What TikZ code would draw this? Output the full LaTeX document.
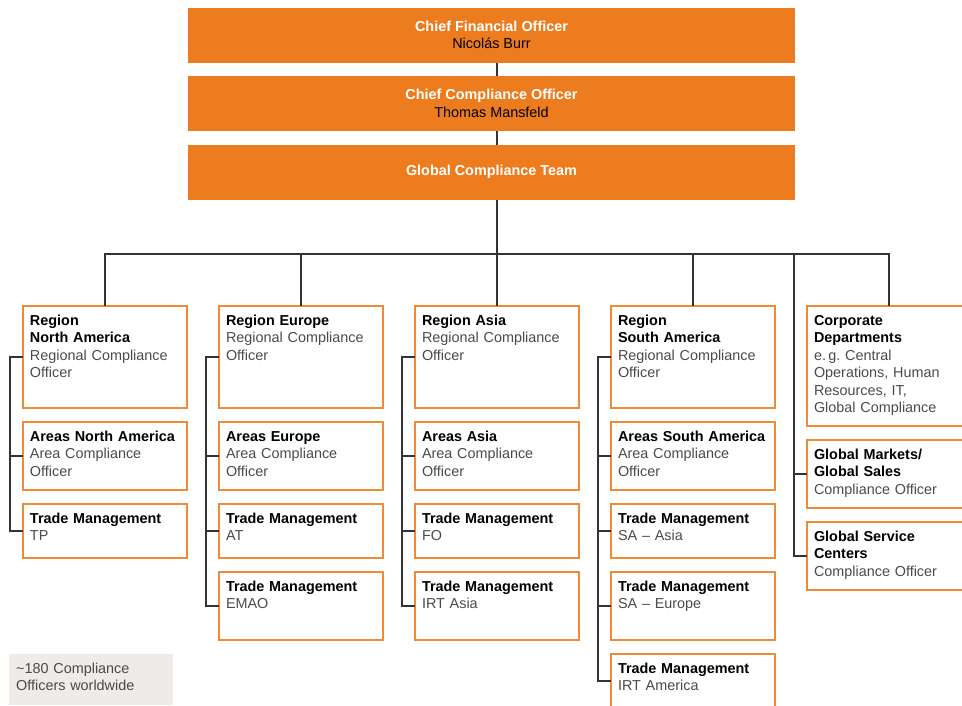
\documentclass[tikz,border=0pt]{standalone}
\usepackage{fontspec}
\setmainfont{Liberation Sans}
\usetikzlibrary{positioning}

\definecolor{cforange}{HTML}{EC7C1E}
\definecolor{boxline}{HTML}{EF8B35}
\definecolor{linkgray}{HTML}{333333}
\definecolor{bodygray}{HTML}{4A4A4A}
\definecolor{notegray}{HTML}{EEEBE8}

\newcommand{\head}[1]{{\color{black}\bfseries #1}}

\begin{document}
\begin{tikzpicture}[x = 1pt, y = -1pt,
    every node/.style = { font = \fontsize{14.4}{17.5}\selectfont\frenchspacing },
    topbox/.style = { fill = cforange, minimum width = 607pt, minimum height = 55pt,
      anchor = north west, align = center, inner sep = 0pt, outer sep = 0pt },
    unit/.style = { draw = boxline, line width = 1.3pt, anchor = north west, outer sep = 0pt,
      text width = 150pt, inner xsep = 7pt, inner ysep = 0pt, align = left,
      text height = 19pt, text = bodygray },
    regionbox/.style = { unit, text depth = 83pt },
    areabox/.style = { unit, text depth = 49pt },
    tradebox/.style = { unit, text depth = 35pt },
    corpbox/.style = { unit, text depth = 101pt },
    link/.style = { draw = linkgray, line width = 1.1pt }]
  \useasboundingbox (0,0) rectangle (962,705);

  % management
  \node [topbox] (cfo) at (188,7.5) {\textbf{\color{white}Chief Financial Officer}\\Nicolás Burr};
  \node [topbox, below = 13.5pt of cfo] (cco) {\textbf{\color{white}Chief Compliance Officer}\\Thomas Mansfeld};
  \node [topbox, below = 13.5pt of cco] (gct) {\textbf{\color{white}Global Compliance Team}};

  % regions
  \node [regionbox] (rNA) at (23,306) {\head{Region\\North America}\\Regional Compliance\\Officer};
  \node [regionbox, right = 32pt of rNA] (rEU) {\head{Region Europe}\\Regional Compliance\\Officer};
  \node [regionbox, right = 32pt of rEU] (rAS) {\head{Region Asia}\\Regional Compliance\\Officer};
  \node [regionbox, right = 32pt of rAS] (rSA) {\head{Region\\South America}\\Regional Compliance\\Officer};
  \node [corpbox] (corp) at (807,306) {\head{Corporate\\Departments}\\e.\,g. Central\\Operations, Human\\Resources, IT,\\Global Compliance};

  % areas
  \node [areabox, below = 14pt of rNA] (aNA) {\head{Areas North America}\\Area Compliance\\Officer};
  \node [areabox, below = 14pt of rEU] (aEU) {\head{Areas Europe}\\Area Compliance\\Officer};
  \node [areabox, below = 14pt of rAS] (aAS) {\head{Areas Asia}\\Area Compliance\\Officer};
  \node [areabox, below = 14pt of rSA] (aSA) {\head{Areas South America}\\Area Compliance\\Officer};
  \node [areabox, below = 14pt of corp] (gms) {\head{Global Markets/\\Global Sales}\\Compliance Officer};
  \node [areabox, below = 14pt of gms] (gsc) {\head{Global Service\\Centers}\\Compliance Officer};

  % trade management
  \node [tradebox, below = 14pt of aNA] (tTP) {\head{Trade Management}\\TP};
  \node [tradebox, below = 14pt of aEU] (tAT) {\head{Trade Management}\\AT};
  \node [tradebox, below = 14pt of aAS] (tFO) {\head{Trade Management}\\FO};
  \node [tradebox, below = 14pt of aSA] (tSAa) {\head{Trade Management}\\SA – Asia};
  \node [areabox, below = 14pt of tAT] (tEMAO) {\head{Trade Management}\\EMAO};
  \node [areabox, below = 14pt of tFO] (tIRTas) {\head{Trade Management}\\IRT Asia};
  \node [areabox, below = 14pt of tSAa] (tSAe) {\head{Trade Management}\\SA – Europe};
  \node [areabox, below = 14pt of tSAe] (tIRTam) {\head{Trade Management}\\IRT America};

  \node [fill = notegray, anchor = north west, text width = 150pt, inner xsep = 7pt, inner ysep = 0pt,
    text height = 19pt, text depth = 31.5pt, align = left, text = bodygray] (note) at (9,654)
    {\textasciitilde180 Compliance\\Officers worldwide};

  % connectors
  \coordinate (bus) at (0,254);
  \draw [link] (cfo.south -| rAS.north) -- (cco.north -| rAS.north);
  \draw [link] (cco.south -| rAS.north) -- (gct.north -| rAS.north);
  \draw [link] (gct.south -| rAS.north) -- (rAS.north);
  \draw [link] (rNA.north) |- (bus -| corp.north) -- (corp.north);
  \draw [link] (rEU.north) -- (rEU.north |- bus);
  \draw [link] (rSA.north) -- (rSA.north |- bus);

  \draw [link] (rNA.west) -- ++(-13,0) coordinate (sNA) |- (tTP.west);
  \draw [link] (sNA |- aNA.west) -- (aNA.west);

  \draw [link] (rEU.west) -- ++(-13,0) coordinate (sEU) |- (tEMAO.west);
  \draw [link] (sEU |- aEU.west) -- (aEU.west);
  \draw [link] (sEU |- tAT.west) -- (tAT.west);

  \draw [link] (rAS.west) -- ++(-13,0) coordinate (sAS) |- (tIRTas.west);
  \draw [link] (sAS |- aAS.west) -- (aAS.west);
  \draw [link] (sAS |- tFO.west) -- (tFO.west);

  \draw [link] (rSA.west) -- ++(-13,0) coordinate (sSA) |- ([yshift=-27pt]tIRTam.north west);
  \draw [link] (sSA |- aSA.west) -- (aSA.west);
  \draw [link] (sSA |- tSAa.west) -- (tSAa.west);
  \draw [link] (sSA |- tSAe.west) -- (tSAe.west);

  \path ([xshift=-13pt]corp.west) coordinate (s5);
  \draw [link] (s5 |- bus) |- (gsc.west);
  \draw [link] (s5 |- gms.west) -- (gms.west);
\end{tikzpicture}
\end{document}
